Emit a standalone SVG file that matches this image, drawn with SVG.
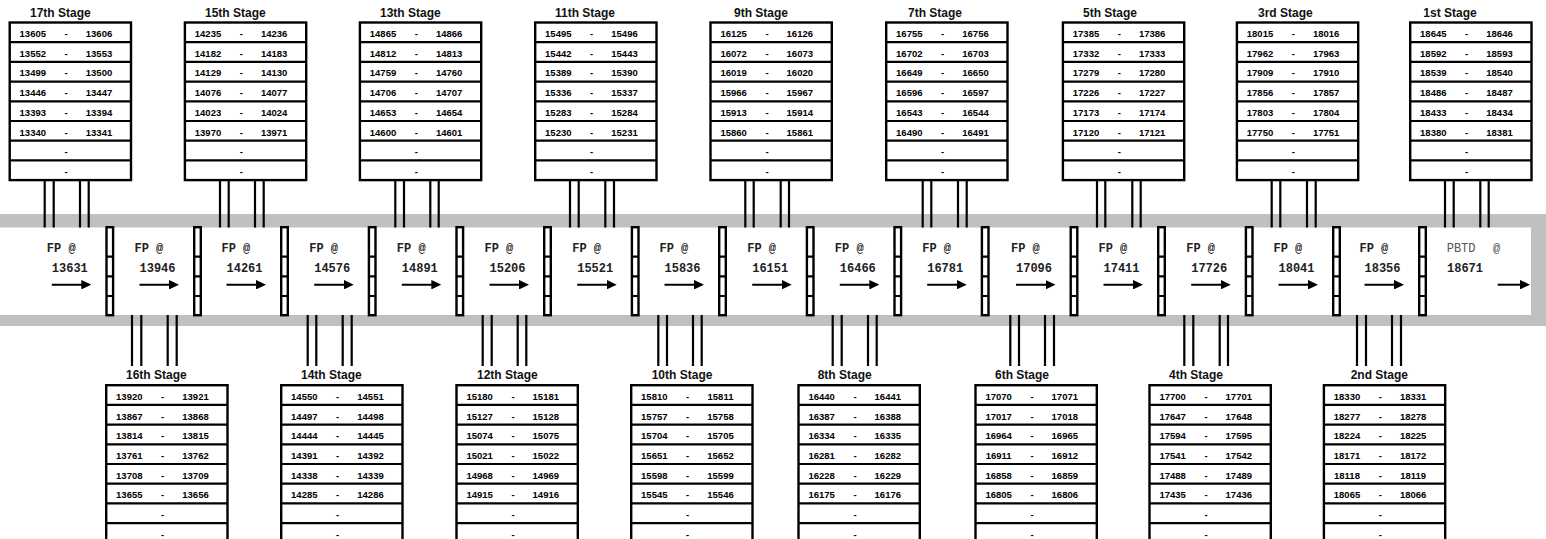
<svg xmlns="http://www.w3.org/2000/svg" xmlns:xlink="http://www.w3.org/1999/xlink" width="1546" height="539" viewBox="0 0 1546 539">
<style>
.bx{fill:#fff;stroke:#000;stroke-width:2.4}
.rl{fill:none;stroke:#000;stroke-width:2.2}
.cn{fill:none;stroke:#000;stroke-width:2.2}
.ar{fill:none;stroke:#000;stroke-width:2;marker-end:url(#ah)}
.n{font-family:"Liberation Sans",Arial,sans-serif;font-weight:bold;font-size:9.5px;text-anchor:middle;fill:#000}
.t{font-family:"Liberation Sans",Arial,sans-serif;font-weight:bold;font-size:12px;fill:#111}
.fp{font-family:"Liberation Mono","Courier New",monospace;font-weight:bold;font-size:12px;fill:#222}
.pb{font-family:"Liberation Mono","Courier New",monospace;font-size:12px;fill:#555}
</style>
<defs>
<marker id="ah" viewBox="0 0 10 9.5" refX="6" refY="4.75" markerWidth="10" markerHeight="9.5" markerUnits="userSpaceOnUse" orient="auto"><path d="M0 0L10 4.75L0 9.5z" fill="#000"/></marker>
<g id="frm"><rect class="bx" x="0" y="0" width="121.3" height="157.6"/><path class="rl" d="M0 19.7H121.3M0 39.4H121.3M0 59.1H121.3M0 78.8H121.3M0 98.5H121.3M0 118.2H121.3M0 137.9H121.3"/></g>
<g id="cb"><rect class="bx" x="1.2" y="227.2" width="6.6" height="88"/><path class="rl" d="M1.2 256.7H7.8M1.2 276.3H7.8M1.2 296H7.8"/></g>
</defs>

<g id="band">
<rect x="0" y="214" width="1546" height="112" fill="#c0c0c0"/>
<rect x="0" y="227.5" width="1531" height="87.5" fill="#fff"/>
</g>

<g id="connectors">
<path class="cn" d="M44.7 180V227.5M53.7 180V227.5M80 180V227.5M88.7 180V227.5"/>
<path class="cn" d="M220 180V227.5M228.7 180V227.5M255 180V227.5M263.7 180V227.5"/>
<path class="cn" d="M395.3 180V227.5M404 180V227.5M430.3 180V227.5M438.7 180V227.5"/>
<path class="cn" d="M570 180V227.5M578.7 180V227.5M605.3 180V227.5M614 180V227.5"/>
<path class="cn" d="M745.3 180V227.5M753.7 180V227.5M780.7 180V227.5M789 180V227.5"/>
<path class="cn" d="M922.7 180V227.5M931.3 180V227.5M958 180V227.5M966.7 180V227.5"/>
<path class="cn" d="M1097 180V227.5M1105.3 180V227.5M1132.3 180V227.5M1140.7 180V227.5"/>
<path class="cn" d="M1271.7 180V227.5M1280.3 180V227.5M1307 180V227.5M1315.7 180V227.5"/>
<path class="cn" d="M1445 180V227.5M1453.7 180V227.5M1480.3 180V227.5M1488.7 180V227.5"/>
<path class="cn" d="M132 315V366M141.3 315V366M167.7 315V366M176.7 315V366"/>
<path class="cn" d="M307.7 315V366M316.3 315V366M342.7 315V366M351.7 315V366"/>
<path class="cn" d="M482.7 315V366M491.7 315V366M517.7 315V366M526.3 315V366"/>
<path class="cn" d="M658.3 315V366M667 315V366M693 315V366M701.7 315V366"/>
<path class="cn" d="M832.7 315V366M841.7 315V366M868 315V366M876.7 315V366"/>
<path class="cn" d="M1010.3 315V366M1019 315V366M1045 315V366M1054 315V366"/>
<path class="cn" d="M1184.3 315V366M1193.3 315V366M1219.7 315V366M1228 315V366"/>
<path class="cn" d="M1357 315V366M1366 315V366M1392 315V366M1401 315V366"/>
<line class="ar" x1="51.8" y1="284.7" x2="87.3" y2="284.7"/>
<line class="ar" x1="139.5" y1="284.7" x2="175" y2="284.7"/>
<line class="ar" x1="226.5" y1="284.7" x2="262" y2="284.7"/>
<line class="ar" x1="314.2" y1="284.7" x2="349.7" y2="284.7"/>
<line class="ar" x1="401.8" y1="284.7" x2="437.3" y2="284.7"/>
<line class="ar" x1="489.5" y1="284.7" x2="525" y2="284.7"/>
<line class="ar" x1="577.2" y1="284.7" x2="612.7" y2="284.7"/>
<line class="ar" x1="664.5" y1="284.7" x2="700" y2="284.7"/>
<line class="ar" x1="752.2" y1="284.7" x2="787.7" y2="284.7"/>
<line class="ar" x1="839.8" y1="284.7" x2="875.3" y2="284.7"/>
<line class="ar" x1="927.2" y1="284.7" x2="962.7" y2="284.7"/>
<line class="ar" x1="1016" y1="284.7" x2="1051.5" y2="284.7"/>
<line class="ar" x1="1103.5" y1="284.7" x2="1139" y2="284.7"/>
<line class="ar" x1="1191.2" y1="284.7" x2="1226.7" y2="284.7"/>
<line class="ar" x1="1278.5" y1="284.7" x2="1314" y2="284.7"/>
<line class="ar" x1="1364.5" y1="284.7" x2="1400" y2="284.7"/>
<line class="ar" x1="1497.7" y1="284.7" x2="1526" y2="284.7"/>
</g>

<g id="junctions">
<use xlink:href="#cb" x="105.3"/><use xlink:href="#cb" x="193"/><use xlink:href="#cb" x="280"/><use xlink:href="#cb" x="367.7"/>
<use xlink:href="#cb" x="455.3"/><use xlink:href="#cb" x="543"/><use xlink:href="#cb" x="630.7"/><use xlink:href="#cb" x="718"/>
<use xlink:href="#cb" x="805.7"/><use xlink:href="#cb" x="893.3"/><use xlink:href="#cb" x="980.7"/><use xlink:href="#cb" x="1069.5"/>
<use xlink:href="#cb" x="1157"/><use xlink:href="#cb" x="1244.7"/><use xlink:href="#cb" x="1332"/><use xlink:href="#cb" x="1418"/>
</g>

<g id="fp-points">
<g id="fp1"><text class="fp" x="46.8" y="252">FP @</text><text class="fp" x="51.8" y="271.7">13631</text></g>
<g id="fp2"><text class="fp" x="134.5" y="252">FP @</text><text class="fp" x="139.5" y="271.7">13946</text></g>
<g id="fp3"><text class="fp" x="221.5" y="252">FP @</text><text class="fp" x="226.5" y="271.7">14261</text></g>
<g id="fp4"><text class="fp" x="309.2" y="252">FP @</text><text class="fp" x="314.2" y="271.7">14576</text></g>
<g id="fp5"><text class="fp" x="396.8" y="252">FP @</text><text class="fp" x="401.8" y="271.7">14891</text></g>
<g id="fp6"><text class="fp" x="484.5" y="252">FP @</text><text class="fp" x="489.5" y="271.7">15206</text></g>
<g id="fp7"><text class="fp" x="572.2" y="252">FP @</text><text class="fp" x="577.2" y="271.7">15521</text></g>
<g id="fp8"><text class="fp" x="659.5" y="252">FP @</text><text class="fp" x="664.5" y="271.7">15836</text></g>
<g id="fp9"><text class="fp" x="747.2" y="252">FP @</text><text class="fp" x="752.2" y="271.7">16151</text></g>
<g id="fp10"><text class="fp" x="834.8" y="252">FP @</text><text class="fp" x="839.8" y="271.7">16466</text></g>
<g id="fp11"><text class="fp" x="922.2" y="252">FP @</text><text class="fp" x="927.2" y="271.7">16781</text></g>
<g id="fp12"><text class="fp" x="1011" y="252">FP @</text><text class="fp" x="1016" y="271.7">17096</text></g>
<g id="fp13"><text class="fp" x="1098.5" y="252">FP @</text><text class="fp" x="1103.5" y="271.7">17411</text></g>
<g id="fp14"><text class="fp" x="1186.2" y="252">FP @</text><text class="fp" x="1191.2" y="271.7">17726</text></g>
<g id="fp15"><text class="fp" x="1273.5" y="252">FP @</text><text class="fp" x="1278.5" y="271.7">18041</text></g>
<g id="fp16"><text class="fp" x="1359.5" y="252">FP @</text><text class="fp" x="1364.5" y="271.7">18356</text></g>
<g id="pbtd"><text class="pb" x="1446.7" y="252">PBTD<tspan x="1493">@</tspan></text><text class="fp" x="1447" y="271.7">18671</text></g>
</g>

<g id="stage17" transform="translate(9.7,22.5)"><use xlink:href="#frm"/><text class="t" x="20.3" y="-5.8">17th Stage</text>
<text class="n"><tspan x="23.1" y="14.5">13605</tspan><tspan x="23.1" y="34.2">13552</tspan><tspan x="23.1" y="53.9">13499</tspan><tspan x="23.1" y="73.6">13446</tspan><tspan x="23.1" y="93.3">13393</tspan><tspan x="23.1" y="113">13340</tspan></text>
<text class="n"><tspan x="56.5" y="14.5">-</tspan><tspan x="56.5" y="34.2">-</tspan><tspan x="56.5" y="53.9">-</tspan><tspan x="56.5" y="73.6">-</tspan><tspan x="56.5" y="93.3">-</tspan><tspan x="56.5" y="113">-</tspan><tspan x="56.5" y="132.7">-</tspan><tspan x="56.5" y="152.4">-</tspan></text>
<text class="n"><tspan x="89.3" y="14.5">13606</tspan><tspan x="89.3" y="34.2">13553</tspan><tspan x="89.3" y="53.9">13500</tspan><tspan x="89.3" y="73.6">13447</tspan><tspan x="89.3" y="93.3">13394</tspan><tspan x="89.3" y="113">13341</tspan></text></g>

<g id="stage15" transform="translate(184.9,22.5)"><use xlink:href="#frm"/><text class="t" x="20.1" y="-5.8">15th Stage</text>
<text class="n"><tspan x="23.1" y="14.5">14235</tspan><tspan x="23.1" y="34.2">14182</tspan><tspan x="23.1" y="53.9">14129</tspan><tspan x="23.1" y="73.6">14076</tspan><tspan x="23.1" y="93.3">14023</tspan><tspan x="23.1" y="113">13970</tspan></text>
<text class="n"><tspan x="56.5" y="14.5">-</tspan><tspan x="56.5" y="34.2">-</tspan><tspan x="56.5" y="53.9">-</tspan><tspan x="56.5" y="73.6">-</tspan><tspan x="56.5" y="93.3">-</tspan><tspan x="56.5" y="113">-</tspan><tspan x="56.5" y="132.7">-</tspan><tspan x="56.5" y="152.4">-</tspan></text>
<text class="n"><tspan x="89.3" y="14.5">14236</tspan><tspan x="89.3" y="34.2">14183</tspan><tspan x="89.3" y="53.9">14130</tspan><tspan x="89.3" y="73.6">14077</tspan><tspan x="89.3" y="93.3">14024</tspan><tspan x="89.3" y="113">13971</tspan></text></g>

<g id="stage13" transform="translate(359.9,22.5)"><use xlink:href="#frm"/><text class="t" x="20.1" y="-5.8">13th Stage</text>
<text class="n"><tspan x="23.1" y="14.5">14865</tspan><tspan x="23.1" y="34.2">14812</tspan><tspan x="23.1" y="53.9">14759</tspan><tspan x="23.1" y="73.6">14706</tspan><tspan x="23.1" y="93.3">14653</tspan><tspan x="23.1" y="113">14600</tspan></text>
<text class="n"><tspan x="56.5" y="14.5">-</tspan><tspan x="56.5" y="34.2">-</tspan><tspan x="56.5" y="53.9">-</tspan><tspan x="56.5" y="73.6">-</tspan><tspan x="56.5" y="93.3">-</tspan><tspan x="56.5" y="113">-</tspan><tspan x="56.5" y="132.7">-</tspan><tspan x="56.5" y="152.4">-</tspan></text>
<text class="n"><tspan x="89.3" y="14.5">14866</tspan><tspan x="89.3" y="34.2">14813</tspan><tspan x="89.3" y="53.9">14760</tspan><tspan x="89.3" y="73.6">14707</tspan><tspan x="89.3" y="93.3">14654</tspan><tspan x="89.3" y="113">14601</tspan></text></g>

<g id="stage11" transform="translate(535.2,22.5)"><use xlink:href="#frm"/><text class="t" x="19.8" y="-5.8">11th Stage</text>
<text class="n"><tspan x="23.1" y="14.5">15495</tspan><tspan x="23.1" y="34.2">15442</tspan><tspan x="23.1" y="53.9">15389</tspan><tspan x="23.1" y="73.6">15336</tspan><tspan x="23.1" y="93.3">15283</tspan><tspan x="23.1" y="113">15230</tspan></text>
<text class="n"><tspan x="56.5" y="14.5">-</tspan><tspan x="56.5" y="34.2">-</tspan><tspan x="56.5" y="53.9">-</tspan><tspan x="56.5" y="73.6">-</tspan><tspan x="56.5" y="93.3">-</tspan><tspan x="56.5" y="113">-</tspan><tspan x="56.5" y="132.7">-</tspan><tspan x="56.5" y="152.4">-</tspan></text>
<text class="n"><tspan x="89.3" y="14.5">15496</tspan><tspan x="89.3" y="34.2">15443</tspan><tspan x="89.3" y="53.9">15390</tspan><tspan x="89.3" y="73.6">15337</tspan><tspan x="89.3" y="93.3">15284</tspan><tspan x="89.3" y="113">15231</tspan></text></g>

<g id="stage9" transform="translate(710.5,22.5)"><use xlink:href="#frm"/><text class="t" x="23.5" y="-5.8">9th Stage</text>
<text class="n"><tspan x="23.1" y="14.5">16125</tspan><tspan x="23.1" y="34.2">16072</tspan><tspan x="23.1" y="53.9">16019</tspan><tspan x="23.1" y="73.6">15966</tspan><tspan x="23.1" y="93.3">15913</tspan><tspan x="23.1" y="113">15860</tspan></text>
<text class="n"><tspan x="56.5" y="14.5">-</tspan><tspan x="56.5" y="34.2">-</tspan><tspan x="56.5" y="53.9">-</tspan><tspan x="56.5" y="73.6">-</tspan><tspan x="56.5" y="93.3">-</tspan><tspan x="56.5" y="113">-</tspan><tspan x="56.5" y="132.7">-</tspan><tspan x="56.5" y="152.4">-</tspan></text>
<text class="n"><tspan x="89.3" y="14.5">16126</tspan><tspan x="89.3" y="34.2">16073</tspan><tspan x="89.3" y="53.9">16020</tspan><tspan x="89.3" y="73.6">15967</tspan><tspan x="89.3" y="93.3">15914</tspan><tspan x="89.3" y="113">15861</tspan></text></g>

<g id="stage7" transform="translate(886.2,22.5)"><use xlink:href="#frm"/><text class="t" x="21.8" y="-5.8">7th Stage</text>
<text class="n"><tspan x="23.1" y="14.5">16755</tspan><tspan x="23.1" y="34.2">16702</tspan><tspan x="23.1" y="53.9">16649</tspan><tspan x="23.1" y="73.6">16596</tspan><tspan x="23.1" y="93.3">16543</tspan><tspan x="23.1" y="113">16490</tspan></text>
<text class="n"><tspan x="56.5" y="14.5">-</tspan><tspan x="56.5" y="34.2">-</tspan><tspan x="56.5" y="53.9">-</tspan><tspan x="56.5" y="73.6">-</tspan><tspan x="56.5" y="93.3">-</tspan><tspan x="56.5" y="113">-</tspan><tspan x="56.5" y="132.7">-</tspan><tspan x="56.5" y="152.4">-</tspan></text>
<text class="n"><tspan x="89.3" y="14.5">16756</tspan><tspan x="89.3" y="34.2">16703</tspan><tspan x="89.3" y="53.9">16650</tspan><tspan x="89.3" y="73.6">16597</tspan><tspan x="89.3" y="93.3">16544</tspan><tspan x="89.3" y="113">16491</tspan></text></g>

<g id="stage5" transform="translate(1062.9,22.5)"><use xlink:href="#frm"/><text class="t" x="20.1" y="-5.8">5th Stage</text>
<text class="n"><tspan x="23.1" y="14.5">17385</tspan><tspan x="23.1" y="34.2">17332</tspan><tspan x="23.1" y="53.9">17279</tspan><tspan x="23.1" y="73.6">17226</tspan><tspan x="23.1" y="93.3">17173</tspan><tspan x="23.1" y="113">17120</tspan></text>
<text class="n"><tspan x="56.5" y="14.5">-</tspan><tspan x="56.5" y="34.2">-</tspan><tspan x="56.5" y="53.9">-</tspan><tspan x="56.5" y="73.6">-</tspan><tspan x="56.5" y="93.3">-</tspan><tspan x="56.5" y="113">-</tspan><tspan x="56.5" y="132.7">-</tspan><tspan x="56.5" y="152.4">-</tspan></text>
<text class="n"><tspan x="89.3" y="14.5">17386</tspan><tspan x="89.3" y="34.2">17333</tspan><tspan x="89.3" y="53.9">17280</tspan><tspan x="89.3" y="73.6">17227</tspan><tspan x="89.3" y="93.3">17174</tspan><tspan x="89.3" y="113">17121</tspan></text></g>

<g id="stage3" transform="translate(1236.9,22.5)"><use xlink:href="#frm"/><text class="t" x="21.1" y="-5.8">3rd Stage</text>
<text class="n"><tspan x="23.1" y="14.5">18015</tspan><tspan x="23.1" y="34.2">17962</tspan><tspan x="23.1" y="53.9">17909</tspan><tspan x="23.1" y="73.6">17856</tspan><tspan x="23.1" y="93.3">17803</tspan><tspan x="23.1" y="113">17750</tspan></text>
<text class="n"><tspan x="56.5" y="14.5">-</tspan><tspan x="56.5" y="34.2">-</tspan><tspan x="56.5" y="53.9">-</tspan><tspan x="56.5" y="73.6">-</tspan><tspan x="56.5" y="93.3">-</tspan><tspan x="56.5" y="113">-</tspan><tspan x="56.5" y="132.7">-</tspan><tspan x="56.5" y="152.4">-</tspan></text>
<text class="n"><tspan x="89.3" y="14.5">18016</tspan><tspan x="89.3" y="34.2">17963</tspan><tspan x="89.3" y="53.9">17910</tspan><tspan x="89.3" y="73.6">17857</tspan><tspan x="89.3" y="93.3">17804</tspan><tspan x="89.3" y="113">17751</tspan></text></g>

<g id="stage1" transform="translate(1410.2,22.5)"><use xlink:href="#frm"/><text class="t" x="13.1" y="-5.8">1st Stage</text>
<text class="n"><tspan x="23.1" y="14.5">18645</tspan><tspan x="23.1" y="34.2">18592</tspan><tspan x="23.1" y="53.9">18539</tspan><tspan x="23.1" y="73.6">18486</tspan><tspan x="23.1" y="93.3">18433</tspan><tspan x="23.1" y="113">18380</tspan></text>
<text class="n"><tspan x="56.5" y="14.5">-</tspan><tspan x="56.5" y="34.2">-</tspan><tspan x="56.5" y="53.9">-</tspan><tspan x="56.5" y="73.6">-</tspan><tspan x="56.5" y="93.3">-</tspan><tspan x="56.5" y="113">-</tspan><tspan x="56.5" y="132.7">-</tspan><tspan x="56.5" y="152.4">-</tspan></text>
<text class="n"><tspan x="89.3" y="14.5">18646</tspan><tspan x="89.3" y="34.2">18593</tspan><tspan x="89.3" y="53.9">18540</tspan><tspan x="89.3" y="73.6">18487</tspan><tspan x="89.3" y="93.3">18434</tspan><tspan x="89.3" y="113">18381</tspan></text></g>

<g id="stage16" transform="translate(106.2,385.2)"><use xlink:href="#frm"/><text class="t" x="19.8" y="-6.2">16th Stage</text>
<text class="n"><tspan x="23.1" y="14.8">13920</tspan><tspan x="23.1" y="34.5">13867</tspan><tspan x="23.1" y="54.2">13814</tspan><tspan x="23.1" y="73.9">13761</tspan><tspan x="23.1" y="93.6">13708</tspan><tspan x="23.1" y="113.3">13655</tspan></text>
<text class="n"><tspan x="56.5" y="14.8">-</tspan><tspan x="56.5" y="34.5">-</tspan><tspan x="56.5" y="54.2">-</tspan><tspan x="56.5" y="73.9">-</tspan><tspan x="56.5" y="93.6">-</tspan><tspan x="56.5" y="113.3">-</tspan><tspan x="56.5" y="133">-</tspan><tspan x="56.5" y="152.7">-</tspan></text>
<text class="n"><tspan x="89.3" y="14.8">13921</tspan><tspan x="89.3" y="34.5">13868</tspan><tspan x="89.3" y="54.2">13815</tspan><tspan x="89.3" y="73.9">13762</tspan><tspan x="89.3" y="93.6">13709</tspan><tspan x="89.3" y="113.3">13656</tspan></text></g>

<g id="stage14" transform="translate(281.2,385.2)"><use xlink:href="#frm"/><text class="t" x="19.8" y="-6.2">14th Stage</text>
<text class="n"><tspan x="23.1" y="14.8">14550</tspan><tspan x="23.1" y="34.5">14497</tspan><tspan x="23.1" y="54.2">14444</tspan><tspan x="23.1" y="73.9">14391</tspan><tspan x="23.1" y="93.6">14338</tspan><tspan x="23.1" y="113.3">14285</tspan></text>
<text class="n"><tspan x="56.5" y="14.8">-</tspan><tspan x="56.5" y="34.5">-</tspan><tspan x="56.5" y="54.2">-</tspan><tspan x="56.5" y="73.9">-</tspan><tspan x="56.5" y="93.6">-</tspan><tspan x="56.5" y="113.3">-</tspan><tspan x="56.5" y="133">-</tspan><tspan x="56.5" y="152.7">-</tspan></text>
<text class="n"><tspan x="89.3" y="14.8">14551</tspan><tspan x="89.3" y="34.5">14498</tspan><tspan x="89.3" y="54.2">14445</tspan><tspan x="89.3" y="73.9">14392</tspan><tspan x="89.3" y="93.6">14339</tspan><tspan x="89.3" y="113.3">14286</tspan></text></g>

<g id="stage12" transform="translate(456.5,385.2)"><use xlink:href="#frm"/><text class="t" x="20.5" y="-6.2">12th Stage</text>
<text class="n"><tspan x="23.1" y="14.8">15180</tspan><tspan x="23.1" y="34.5">15127</tspan><tspan x="23.1" y="54.2">15074</tspan><tspan x="23.1" y="73.9">15021</tspan><tspan x="23.1" y="93.6">14968</tspan><tspan x="23.1" y="113.3">14915</tspan></text>
<text class="n"><tspan x="56.5" y="14.8">-</tspan><tspan x="56.5" y="34.5">-</tspan><tspan x="56.5" y="54.2">-</tspan><tspan x="56.5" y="73.9">-</tspan><tspan x="56.5" y="93.6">-</tspan><tspan x="56.5" y="113.3">-</tspan><tspan x="56.5" y="133">-</tspan><tspan x="56.5" y="152.7">-</tspan></text>
<text class="n"><tspan x="89.3" y="14.8">15181</tspan><tspan x="89.3" y="34.5">15128</tspan><tspan x="89.3" y="54.2">15075</tspan><tspan x="89.3" y="73.9">15022</tspan><tspan x="89.3" y="93.6">14969</tspan><tspan x="89.3" y="113.3">14916</tspan></text></g>

<g id="stage10" transform="translate(631.2,385.2)"><use xlink:href="#frm"/><text class="t" x="20.5" y="-6.2">10th Stage</text>
<text class="n"><tspan x="23.1" y="14.8">15810</tspan><tspan x="23.1" y="34.5">15757</tspan><tspan x="23.1" y="54.2">15704</tspan><tspan x="23.1" y="73.9">15651</tspan><tspan x="23.1" y="93.6">15598</tspan><tspan x="23.1" y="113.3">15545</tspan></text>
<text class="n"><tspan x="56.5" y="14.8">-</tspan><tspan x="56.5" y="34.5">-</tspan><tspan x="56.5" y="54.2">-</tspan><tspan x="56.5" y="73.9">-</tspan><tspan x="56.5" y="93.6">-</tspan><tspan x="56.5" y="113.3">-</tspan><tspan x="56.5" y="133">-</tspan><tspan x="56.5" y="152.7">-</tspan></text>
<text class="n"><tspan x="89.3" y="14.8">15811</tspan><tspan x="89.3" y="34.5">15758</tspan><tspan x="89.3" y="54.2">15705</tspan><tspan x="89.3" y="73.9">15652</tspan><tspan x="89.3" y="93.6">15599</tspan><tspan x="89.3" y="113.3">15546</tspan></text></g>

<g id="stage8" transform="translate(798.5,385.2)"><use xlink:href="#frm"/><text class="t" x="19.2" y="-6.2">8th Stage</text>
<text class="n"><tspan x="23.1" y="14.8">16440</tspan><tspan x="23.1" y="34.5">16387</tspan><tspan x="23.1" y="54.2">16334</tspan><tspan x="23.1" y="73.9">16281</tspan><tspan x="23.1" y="93.6">16228</tspan><tspan x="23.1" y="113.3">16175</tspan></text>
<text class="n"><tspan x="56.5" y="14.8">-</tspan><tspan x="56.5" y="34.5">-</tspan><tspan x="56.5" y="54.2">-</tspan><tspan x="56.5" y="73.9">-</tspan><tspan x="56.5" y="93.6">-</tspan><tspan x="56.5" y="113.3">-</tspan><tspan x="56.5" y="133">-</tspan><tspan x="56.5" y="152.7">-</tspan></text>
<text class="n"><tspan x="89.3" y="14.8">16441</tspan><tspan x="89.3" y="34.5">16388</tspan><tspan x="89.3" y="54.2">16335</tspan><tspan x="89.3" y="73.9">16282</tspan><tspan x="89.3" y="93.6">16229</tspan><tspan x="89.3" y="113.3">16176</tspan></text></g>

<g id="stage6" transform="translate(975.5,385.2)"><use xlink:href="#frm"/><text class="t" x="19.5" y="-6.2">6th Stage</text>
<text class="n"><tspan x="23.1" y="14.8">17070</tspan><tspan x="23.1" y="34.5">17017</tspan><tspan x="23.1" y="54.2">16964</tspan><tspan x="23.1" y="73.9">16911</tspan><tspan x="23.1" y="93.6">16858</tspan><tspan x="23.1" y="113.3">16805</tspan></text>
<text class="n"><tspan x="56.5" y="14.8">-</tspan><tspan x="56.5" y="34.5">-</tspan><tspan x="56.5" y="54.2">-</tspan><tspan x="56.5" y="73.9">-</tspan><tspan x="56.5" y="93.6">-</tspan><tspan x="56.5" y="113.3">-</tspan><tspan x="56.5" y="133">-</tspan><tspan x="56.5" y="152.7">-</tspan></text>
<text class="n"><tspan x="89.3" y="14.8">17071</tspan><tspan x="89.3" y="34.5">17018</tspan><tspan x="89.3" y="54.2">16965</tspan><tspan x="89.3" y="73.9">16912</tspan><tspan x="89.3" y="93.6">16859</tspan><tspan x="89.3" y="113.3">16806</tspan></text></g>

<g id="stage4" transform="translate(1149.5,385.2)"><use xlink:href="#frm"/><text class="t" x="19.5" y="-6.2">4th Stage</text>
<text class="n"><tspan x="23.1" y="14.8">17700</tspan><tspan x="23.1" y="34.5">17647</tspan><tspan x="23.1" y="54.2">17594</tspan><tspan x="23.1" y="73.9">17541</tspan><tspan x="23.1" y="93.6">17488</tspan><tspan x="23.1" y="113.3">17435</tspan></text>
<text class="n"><tspan x="56.5" y="14.8">-</tspan><tspan x="56.5" y="34.5">-</tspan><tspan x="56.5" y="54.2">-</tspan><tspan x="56.5" y="73.9">-</tspan><tspan x="56.5" y="93.6">-</tspan><tspan x="56.5" y="113.3">-</tspan><tspan x="56.5" y="133">-</tspan><tspan x="56.5" y="152.7">-</tspan></text>
<text class="n"><tspan x="89.3" y="14.8">17701</tspan><tspan x="89.3" y="34.5">17648</tspan><tspan x="89.3" y="54.2">17595</tspan><tspan x="89.3" y="73.9">17542</tspan><tspan x="89.3" y="93.6">17489</tspan><tspan x="89.3" y="113.3">17436</tspan></text></g>

<g id="stage2" transform="translate(1323.9,385.2)"><use xlink:href="#frm"/><text class="t" x="26.8" y="-6.2">2nd Stage</text>
<text class="n"><tspan x="23.1" y="14.8">18330</tspan><tspan x="23.1" y="34.5">18277</tspan><tspan x="23.1" y="54.2">18224</tspan><tspan x="23.1" y="73.9">18171</tspan><tspan x="23.1" y="93.6">18118</tspan><tspan x="23.1" y="113.3">18065</tspan></text>
<text class="n"><tspan x="56.5" y="14.8">-</tspan><tspan x="56.5" y="34.5">-</tspan><tspan x="56.5" y="54.2">-</tspan><tspan x="56.5" y="73.9">-</tspan><tspan x="56.5" y="93.6">-</tspan><tspan x="56.5" y="113.3">-</tspan><tspan x="56.5" y="133">-</tspan><tspan x="56.5" y="152.7">-</tspan></text>
<text class="n"><tspan x="89.3" y="14.8">18331</tspan><tspan x="89.3" y="34.5">18278</tspan><tspan x="89.3" y="54.2">18225</tspan><tspan x="89.3" y="73.9">18172</tspan><tspan x="89.3" y="93.6">18119</tspan><tspan x="89.3" y="113.3">18066</tspan></text></g>
</svg>
